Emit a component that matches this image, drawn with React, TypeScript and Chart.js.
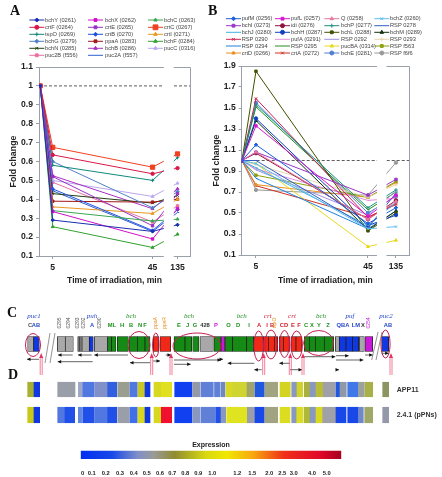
import React, { useEffect, useRef } from "react";
import { Chart, registerables } from "chart.js";
import { drawPoint } from "chart.js/helpers";

Chart.register(...registerables);

const FONT = "'Liberation Sans', Arial, sans-serif";
const SERIF = "'Liberation Serif', serif";

// irradiation times, placed on a broken axis: 135 min is drawn just after the break
const timePositions = [0, 5, 45, 55];
const timeTickLabels: Record<number, string> = { 5: "5", 45: "45", 55: "135" };

const namesA = [
  "bchY (0261)", "bchX (0262)", "bchC (0263)", "crtF (0264)", "crtE (0265)", "crtC (0267)",
  "tspO (0269)", "crtB (0270)", "crtI (0271)", "bchG (0279)", "ppaA (0283)", "bchF (0284)",
  "bchN (0285)", "bchB (0286)", "pucC (0316)", "puc2B (f556)", "puc2A (f557)",
];
const valuesA = [
  [1, 0.29, 0.23, 0.265], [1, 0.335, 0.19, 0.35], [1, 0.34, 0.285, 0.295], [1, 0.635, 0.535, 0.565],
  [1, 0.52, 0.26, 0.43], [1, 0.675, 0.57, 0.64], [1, 0.58, 0.5, 0.62], [1, 0.455, 0.235, 0.345],
  [1, 0.36, 0.325, 0.4], [1, 0.6, 0.355, 0.44], [1, 0.39, 0.385, 0.4], [1, 0.255, 0.145, 0.215],
  [1, 0.43, 0.38, 0.42], [1, 0.525, 0.35, 0.455], [1, 0.5, 0.415, 0.485], [1, 0.49, 0.28, 0.365],
  [1, 0.445, 0.23, 0.33],
];
const colorsA = [
  "#1a2fb0", "#d010c8", "#38a850", "#d81848", "#9a30c8", "#f04020", "#108878", "#2050e0", "#e89820",
  "#5080c8", "#a01818", "#30a030", "#204010", "#a830c0", "#b8a8f0", "#e870a0", "#3060d0",
];
const stylesA = [
  "rectRot", "rect", "triangle", "circle", "rect", "rect", "cross", "rectRot", "triangle",
  "rectRot", "rect", "triangle", "crossRot", "triangle", "triangle", "rect", "dash",
];

const namesB = [
  "pufM (0256)", "pufL (0257)", "Q (0258)", "bchZ (0260)", "bchI (0273)", "idi (0276)", "bchP (0277)", "RSP 0278",
  "bchJ (0280)", "bchH (0287)", "bchL (0288)", "bchM (0289)", "RSP 0290", "pufA (0291)", "RSP 0292", "RSP 0293",
  "RSP 0294", "RSP 0295", "pucBA (0314)", "RSP f563", "crtD (0266)", "crtA (0272)", "bchE (0281)", "RSP f6f6",
];
const valuesB = [
  [1, 1.15, 0.4, 0.55], [1, 1.33, 0.47, 0.67], [1, 1.08, 0.44, 0.61], [1, 0.97, 0.35, 0.37],
  [1, 1.08, 0.67, 0.82], [1, 1.07, 0.44, 0.62], [1, 1.53, 0.55, 0.72], [1, 1.0, 0.36, 0.69],
  [1, 0.93, 0.38, 0.6], [1, 1.4, 0.38, 0.48], [1, 1.85, 0.33, 0.5], [1, 1.38, 0.34, 0.52],
  [1, 1.59, 0.46, 0.58], [1, 0.92, 0.62, 0.64], [1, 0.91, 0.48, 0.71], [1, 0.96, 0.65, 0.77],
  [1, 0.83, 0.35, 0.52], [1, 1.51, 0.53, 0.7], [1, 0.97, 0.18, 0.24], [1, 0.86, 0.65, 0.8],
  [1, 0.77, 0.65, 0.79], [1, 0.76, 0.46, 0.59], [1, 1.55, 0.5, 0.66], [1, 0.72, 0.67, 0.98],
];
const colorsB = [
  "#2060d8", "#d818d0", "#e878a0", "#60c0f0", "#9a38c8", "#901040", "#209080", "#3060c0",
  "#40b0e0", "#1040c0", "#405000", "#103010", "#d02050", "#e090e0", "#a090e0", "#e8d8b0",
  "#2080e0", "#209020", "#e8d820", "#90a010", "#e89020", "#d03020", "#5080d0", "#999999",
];
const stylesB = [
  "rectRot", "rect", "triangle", "crossRot", "rect", "circle", "cross", "dash",
  "dash", "circle", "rect", "triangle", "crossRot", "dash", "dash", "cross",
  "dash", "dash", "triangle", "rect", "triangle", "crossRot", "circle", "circle",
];

// gene map: start / end along the map
const geneStart = [27.7, 33.5, 57.3, 65.3, 77.7, 80, 82, 89.3, 94.3, 107.7, 111.7, 117.3, 129, 137.3, 145, 153.3, 160, 174, 185, 192.7, 200, 214, 221, 225, 232.7, 246.7, 253.7, 263.3, 268.3, 274.3, 279.3, 283.3, 291, 296, 304.3, 309.3, 315.3, 324.3, 335.3, 339.3, 346, 352.7, 359.3, 365, 381.7];
const geneEnd = [33.5, 39.3, 65.3, 73.3, 80, 82, 89.3, 93.3, 107.7, 111.7, 116, 128.3, 137.3, 145, 150, 158.7, 170.7, 185, 191.7, 199, 213.3, 221, 225, 232.7, 246.7, 253.7, 263.3, 268.3, 274.3, 277.7, 283.3, 290, 296, 302, 309.3, 315.3, 324.3, 333.7, 339.3, 346, 352.7, 358.7, 364.3, 372.7, 388.7];
const geneColor = ["g", "b", "g", "g", "d", "g", "g", "b", "g", "n", "n", "n", "n", "n", "n", "r", "r", "n", "n", "n", "g", "n", "m", "n", "n", "n", "r", "r", "r", "r", "r", "r", "r", "r", "n", "n", "n", "n", "g", "b", "b", "b", "g", "m", "b"];
const genePalette: Record<string, string> = { g: "#a8a8a8", d: "#707070", b: "#1038e0", n: "#158a15", r: "#f02818", m: "#c818d8" };

// expression rows: start / end and level colour
const app11Start = [27.7, 34, 57.7, 78.3, 82.7, 95, 107.7, 117.7, 130, 138, 145, 154, 161.3, 174.7, 192.7, 201, 214.5, 221, 226, 232.7, 247, 255, 265, 280, 291.7, 297, 304.3, 310, 316, 323.3, 336, 340, 347.7, 358.3, 365, 382.7];
const app11End = [34, 39.7, 75, 82.3, 94.3, 107.7, 116.7, 129.3, 137.3, 145, 150, 160.7, 171.7, 192, 200, 213.3, 220, 225, 232.7, 247, 254.3, 264.3, 277.7, 290.3, 297, 302.7, 310, 316, 323.3, 335.3, 340, 346.3, 358.3, 364.3, 372.7, 388.7];
const app11Color = ["#a8b030", "#1038e0", "#9a9ea8", "#a0a8c8", "#5078e0", "#8090c8", "#3060e0", "#9a9e90", "#5078e0", "#c8c828", "#1038e0", "#d8d820", "#e0e020", "#1040f0", "#9498a8", "#6080d8", "#6080d8", "#7088c0", "#d8d828", "#d0d430", "#a0a468", "#2058e0", "#a0a480", "#d4d420", "#8898c0", "#d0d428", "#aab040", "#8898c0", "#b8bc38", "#a0a0a8", "#2058e0", "#9098a8", "#4078e8", "#9ca0a0", "#a8b048", "#8c9460"];
const pPNsStart = [27.7, 34, 57.7, 65, 78.3, 82.7, 95, 107.7, 117.7, 130, 138, 145, 154, 161.3, 174.7, 192.7, 201, 215.7, 221, 226.7, 247.3, 255, 265, 280, 291.7, 296.7, 304, 310, 316, 322.7, 336, 347.7, 358.3, 364.7, 382.7];
const pPNsEnd = [34, 39.7, 65, 74.7, 81.7, 94.3, 107.7, 116.7, 129.3, 137.3, 145, 150, 160.7, 171.7, 192, 200, 215, 221, 225.7, 246.7, 255, 264.3, 277.7, 290, 296.7, 302.7, 310, 316, 322.7, 335.7, 346, 358.3, 363.3, 372.7, 388.7];
const pPNsColor = ["#c8c818", "#1038e0", "#5078e0", "#2050e8", "#6088e0", "#2050e8", "#5078e0", "#2050e8", "#9a9ea8", "#4070e8", "#d8d820", "#1038e0", "#d8d820", "#f01030", "#1040f0", "#8898c0", "#6080d8", "#2050e8", "#8898c0", "#e0e420", "#9a9ea8", "#1848e8", "#a0a480", "#dcdc20", "#8898c0", "#dcdc20", "#b0b838", "#8898c0", "#d8d820", "#a0a0a8", "#1848e8", "#1848e8", "#7088c8", "#a0a868", "#9498a8"];

const rowCentres = { map: 44, app11: 89.5, pPNs: 115 };

// ellipses [cx, cy, rx, ry] round gene clusters; cy in the same depth units as the rows
const clusterEllipses = [
  [33, 45, 7.5, 11.5], [139, 45, 11, 13.5], [155.8, 45, 3.2, 12], [197, 46, 24, 13],
  [258.7, 46, 4.8, 15], [271, 44.5, 6, 14.5], [284.5, 44, 4.8, 13.5], [296.7, 45, 5.7, 14],
  [318.7, 43, 15, 12.5], [385.5, 44, 4.6, 14],
];
// transcripts [from, to, depth]; the head sits at "to"
const transcripts = [
  [39, 27, 59.3], [72.7, 58, 55], [91.7, 78, 55], [128, 94.3, 55], [92.7, 57.7, 61.7],
  [150, 130, 62.7], [153, 160, 61], [165.7, 171, 55], [174, 221, 60], [174, 190.7, 64.3],
  [221, 223, 59.3], [254.3, 227.7, 63.3], [261.7, 254.3, 69.7], [290, 279.3, 63.3], [290, 302, 69.7],
  [304.3, 335.3, 56.7], [336, 363.3, 60], [336, 348.7, 55.7], [336, 339, 69.7], [365, 372.7, 55], [381.7, 388.7, 53.3],
];
const promoterMarks = [41.2, 151.7, 171, 263.7, 290.3, 303, 391];
const mapBreaks = [[45, 63, 50, 33], [50, 63, 55, 33], [371.7, 60, 378, 32], [376, 60, 382, 32]];

// [text, x, colour]
const clusterLabels: [string, number, string][] = [
  ["puc1", 34, "#2848c8"], ["puh", 92, "#2848c8"], ["bch", 131, "#209020"], ["bch", 189, "#209020"], ["bch", 241.7, "#209020"],
  ["crt", 267.7, "#d02030"], ["crt", 292, "#d02030"], ["bch", 321, "#209020"], ["puf", 350, "#2848c8"], ["puc2", 386, "#2848c8"],
];
const geneLabels: [string, number, string][] = [
  ["C", 30, "#555555"], ["AB", 36, "#2848c8"], ["A", 92, "#2848c8"], ["ML", 112, "#209020"], ["H", 122, "#209020"], ["B", 131, "#209020"],
  ["N", 140, "#209020"], ["F", 145, "#209020"], ["E", 179, "#209020"], ["J", 187.5, "#209020"], ["G", 195, "#209020"], ["428", 205, "#333333"],
  ["P", 216, "#c818d8"], ["O", 228.5, "#209020"], ["D", 238, "#209020"], ["I", 249, "#209020"], ["A", 259, "#d02030"], ["I", 267, "#d02030"],
  ["B", 272, "#d02030"], ["CD", 284, "#d02030"], ["E", 293, "#d02030"], ["F", 299, "#d02030"], ["C", 306, "#209020"], ["X", 312, "#209020"],
  ["Y", 319, "#209020"], ["Z", 328, "#209020"], ["QBA", 343, "#2848c8"], ["LM", 356, "#2848c8"], ["X", 363, "#333333"], ["AB", 388, "#2848c8"],
];
const sideLabels: [string, number, string][] = [
  ["0295", 59.5, "#555555"], ["0294", 69, "#555555"], ["0293", 78, "#555555"], ["0292", 84, "#555555"], ["0290", 100, "#555555"],
  ["ppaA", 155.5, "#e89020"], ["ppsR", 165, "#e89020"], ["tspO", 275, "#e89020"], ["0254", 369, "#c818d8"],
];
const rowLabels: [string, number, number][] = [["APP11", 407.7, 90], ["2.4.1 (pPNs)", 416.7, 115]];

const expressionTicks = ["0", "0.1", "0.2", "0.3", "0.4", "0.5", "0.6", "0.7", "0.8", "0.9", "1.0", "1.2", "1.5", "2.0", "2.5", "3.0", "4.0", "5.0"];
const expressionPlaces = [2, 11, 25, 39.3, 53, 66, 79.3, 91.6, 104.6, 117.6, 131.6, 156.6, 171.6, 188.6, 201.6, 213, 231.3, 246];
const expressionSpan = [0, 260.6];
const expressionStops: [number, string][] = [
  [0, "#0030f0"], [0.12, "#1848e8"], [0.22, "#8090c8"], [0.28, "#9a9a98"], [0.36, "#908c30"], [0.48, "#d8d810"],
  [0.56, "#f0e800"], [0.66, "#f8a810"], [0.78, "#f03018"], [0.92, "#e00828"], [1, "#a80020"],
];

type PanelCfg = {
  names: string[]; values: number[][]; colors: string[]; styles: string[];
  yMin: number; yMax: number; step: number;
  xMin: number; xMax: number; breakFrom: number; breakTo: number;
  plot: { left: number; right: number; top: number; bottom: number };
  canvas: { w: number; h: number };
  legend: { cols: number; lineX: number[]; textX: number[]; rows: number[] };
  bigIndex: number; titlePad: number;
};

const panelA: PanelCfg = {
  names: namesA, values: valuesA, colors: colorsA, styles: stylesA,
  yMin: 0.1, yMax: 1.1, step: 0.1, xMin: -0.5, xMax: 60, breakFrom: 49.5, breakTo: 53.5,
  plot: { left: 39, right: 190, top: 67, bottom: 256 },
  canvas: { w: 205, h: 288 },
  legend: { cols: 3, lineX: [29.3, 88, 148], textX: [45, 105, 164], rows: [20, 27.3, 34.3, 41.3, 48.3, 55.3] },
  bigIndex: 5, titlePad: 8,
};
const panelB: PanelCfg = {
  names: namesB, values: valuesB, colors: colorsB, styles: stylesB,
  yMin: 0.1, yMax: 1.9, step: 0.2, xMin: -0.1, xMax: 59.65, breakFrom: 48.2, breakTo: 51.6,
  plot: { left: 36.7, right: 204, top: 66, bottom: 255 },
  canvas: { w: 237, h: 288 },
  legend: { cols: 4, lineX: [21, 70, 119.3, 169.3], textX: [36.7, 86, 136, 185], rows: [18.7, 25.7, 32.3, 39.3, 46, 53] },
  bigIndex: -1, titlePad: 6,
};

function makeLinePanel(canvas: HTMLCanvasElement, p: PanelCfg) {
  const axisColor = "#9aa0aa";
  const frameAndBreak = {
    id: "frameAndBreak",
    beforeDatasetsDraw(chart: any) {
      const { ctx, chartArea: a } = chart;
      ctx.save();
      ctx.strokeStyle = axisColor;
      ctx.lineWidth = 1;
      ctx.beginPath();
      ctx.moveTo(a.left, a.top + 0.5);
      ctx.lineTo(a.right + 0.5, a.top + 0.5);
      ctx.lineTo(a.right + 0.5, a.bottom);
      ctx.stroke();
      ctx.restore();
    },
    afterDatasetsDraw(chart: any) {
      const { ctx, chartArea: a, scales } = chart;
      const x1 = scales.x.getPixelForValue(p.breakFrom);
      const x2 = scales.x.getPixelForValue(p.breakTo);
      ctx.save();
      ctx.fillStyle = "#fff";
      ctx.fillRect(x1, a.top - 3, x2 - x1, a.bottom - a.top + 6);
      ctx.restore();
    },
  };
  const columnLegend = {
    id: "columnLegend",
    afterDraw(chart: any) {
      const { ctx } = chart;
      ctx.save();
      ctx.font = `5.7px ${FONT}`;
      ctx.textBaseline = "middle";
      p.names.forEach((name, i) => {
        const col = i % p.legend.cols;
        const row = Math.floor(i / p.legend.cols);
        const y = p.legend.rows[row];
        const x0 = p.legend.lineX[col];
        const x1 = x0 + 15;
        ctx.strokeStyle = p.colors[i];
        ctx.fillStyle = p.colors[i];
        ctx.lineWidth = 1;
        ctx.beginPath();
        ctx.moveTo(x0, y);
        ctx.lineTo(x1, y);
        ctx.stroke();
        if (p.styles[i] !== "dash") {
          drawPoint(ctx, { pointStyle: p.styles[i] as any, radius: i === p.bigIndex ? 3.4 : 2, rotation: 0, borderWidth: 1 } as any, (x0 + x1) / 2, y);
        }
        ctx.fillStyle = "#444";
        ctx.fillText(name, p.legend.textX[col], y);
      });
      ctx.restore();
    },
  };
  return new Chart(canvas, {
    type: "line",
    data: {
      datasets: [
        ...p.names.map((name, i) => ({
          label: name,
          data: p.values[i].map((v, k) => ({ x: timePositions[k], y: v })),
          borderColor: p.colors[i],
          backgroundColor: p.colors[i],
          borderWidth: 1,
          pointStyle: p.styles[i] as any,
          pointRadius: i === p.bigIndex ? 3 : 1.7,
          pointBorderWidth: 1,
        })),
        {
          label: "reference",
          data: [{ x: p.xMin, y: 1 }, { x: p.xMax, y: 1 }],
          borderColor: "#333",
          borderWidth: 0.8,
          borderDash: [3, 2],
          pointRadius: 0,
        },
      ],
    },
    options: {
      animation: false,
      responsive: false,
      devicePixelRatio: 1,
      events: [],
      layout: { padding: { left: 0, top: p.plot.top, right: p.canvas.w - p.plot.right, bottom: 0 } },
      plugins: { legend: { display: false }, tooltip: { enabled: false } },
      scales: {
        x: {
          type: "linear",
          min: p.xMin,
          max: p.xMax,
          afterBuildTicks(s: any) { s.ticks = [{ value: 5 }, { value: 45 }, { value: 55 }]; },
          afterFit(s: any) { s.height = p.canvas.h - p.plot.bottom; },
          border: { color: axisColor },
          grid: { drawOnChartArea: false, tickLength: 3, color: axisColor },
          ticks: {
            autoSkip: false, maxRotation: 0, padding: 3, color: "#222",
            font: { family: FONT, size: 8.6, weight: "bold" },
            callback: (v: any) => timeTickLabels[v as number] ?? "",
          },
          title: {
            display: true, text: "Time of irradiation, min", color: "#222",
            font: { family: FONT, size: 8.6, weight: "bold" }, padding: { top: 2, bottom: 2 },
          },
        },
        y: {
          min: p.yMin,
          max: p.yMax,
          afterFit(s: any) { s.width = p.plot.left; },
          border: { color: axisColor },
          grid: { drawOnChartArea: false, tickLength: 3, color: axisColor },
          ticks: {
            stepSize: p.step, padding: 3, color: "#222",
            font: { family: FONT, size: 8.6, weight: "bold" },
            callback: (v: any) => (Math.abs(v - 1) < 1e-6 ? "1" : Number(v).toFixed(1)),
          },
          title: {
            display: true, text: "Fold change", color: "#222",
            font: { family: FONT, size: 8.8, weight: "bold" }, padding: { top: p.titlePad, bottom: 0 },
          },
        },
      },
    } as any,
    plugins: [frameAndBreak, columnLegend] as any,
  });
}

function barRow(starts: number[], ends: number[], colors: string[], centre: number, thickness: number, edge: number) {
  return {
    data: starts.map((s, i) => ({ x: [s, ends[i]], y: centre })),
    backgroundColor: colors,
    borderColor: "#1a1a1a",
    borderWidth: edge,
    borderSkipped: false,
    barThickness: thickness,
    grouped: false,
  };
}

function makeMap(canvas: HTMLCanvasElement) {
  const annotations = {
    id: "annotations",
    afterDatasetsDraw(chart: any) {
      const { ctx, scales } = chart;
      const X = (v: number) => scales.x.getPixelForValue(v);
      const Y = (v: number) => scales.y.getPixelForValue(v);
      ctx.save();
      ctx.strokeStyle = "#c41e50";
      ctx.lineWidth = 1;
      clusterEllipses.forEach(([cx, cy, rx, ry]) => {
        ctx.beginPath();
        ctx.ellipse(X(cx), Y(cy), rx, ry, 0, 0, Math.PI * 2);
        ctx.stroke();
      });
      ctx.strokeStyle = "#222";
      ctx.fillStyle = "#111";
      ctx.lineWidth = 0.7;
      transcripts.forEach(([a, b, d]) => {
        const x1 = X(a), x2 = X(b), y = Y(d);
        const dir = b > a ? 1 : -1;
        ctx.beginPath();
        ctx.moveTo(x1, y);
        ctx.lineTo(x2, y);
        ctx.stroke();
        ctx.beginPath();
        ctx.moveTo(x2, y);
        ctx.lineTo(x2 - dir * 3.5, y - 1.7);
        ctx.lineTo(x2 - dir * 3.5, y + 1.7);
        ctx.closePath();
        ctx.fill();
      });
      ctx.strokeStyle = "#ee6080";
      ctx.fillStyle = "#e83060";
      ctx.lineWidth = 0.8;
      promoterMarks.forEach((m) => {
        const x = X(m);
        [-1, 1].forEach((o) => {
          ctx.beginPath();
          ctx.moveTo(x + o, Y(57));
          ctx.lineTo(x + o, Y(75));
          ctx.stroke();
        });
        ctx.beginPath();
        ctx.moveTo(x, Y(53));
        ctx.lineTo(x - 2, Y(58));
        ctx.lineTo(x + 2, Y(58));
        ctx.closePath();
        ctx.fill();
      });
      ctx.strokeStyle = "#666";
      ctx.lineWidth = 0.7;
      mapBreaks.forEach(([a, b, c, d]) => {
        ctx.beginPath();
        ctx.moveTo(X(a), Y(b));
        ctx.lineTo(X(c), Y(d));
        ctx.stroke();
      });
      ctx.textAlign = "center";
      ctx.textBaseline = "middle";
      ctx.font = `italic 7px ${SERIF}`;
      clusterLabels.forEach(([t, x, c]) => { ctx.fillStyle = c; ctx.fillText(t, X(x), Y(16)); });
      ctx.font = `bold 5.8px ${FONT}`;
      geneLabels.forEach(([t, x, c]) => { ctx.fillStyle = c; ctx.fillText(t, X(x), Y(25)); });
      ctx.font = `5px ${FONT}`;
      sideLabels.forEach(([t, x, c]) => {
        ctx.save();
        ctx.translate(X(x), Y(23));
        ctx.rotate(-Math.PI / 2);
        ctx.fillStyle = c;
        ctx.fillText(t, 0, 0);
        ctx.restore();
      });
      ctx.font = `bold 7px ${FONT}`;
      ctx.fillStyle = "#333";
      rowLabels.forEach(([t, x, d]) => ctx.fillText(t, X(x), Y(d)));
      ctx.restore();
    },
  };
  return new Chart(canvas, {
    type: "bar",
    data: {
      datasets: [
        { label: "gene map", ...barRow(geneStart, geneEnd, geneColor.map((k) => genePalette[k]), rowCentres.map, 15, 0.7) },
        { label: "APP11", ...barRow(app11Start, app11End, app11Color, rowCentres.app11, 14.5, 0) },
        { label: "2.4.1 (pPNs)", ...barRow(pPNsStart, pPNsEnd, pPNsColor, rowCentres.pPNs, 15.5, 0) },
      ],
    } as any,
    options: {
      indexAxis: "y",
      animation: false,
      responsive: false,
      devicePixelRatio: 1,
      events: [],
      plugins: { legend: { display: false }, tooltip: { enabled: false } },
      scales: {
        x: { type: "linear", min: 0, max: 442, display: false },
        y: { type: "linear", min: 0, max: 140, reverse: true, display: false, offset: false },
      },
    } as any,
    plugins: [annotations] as any,
  });
}

function makeColourBar(canvas: HTMLCanvasElement) {
  const ctx = canvas.getContext("2d")!;
  const grad = ctx.createLinearGradient(80.7, 0, 341.3, 0);
  expressionStops.forEach(([o, c]) => grad.addColorStop(o, c));
  return new Chart(canvas, {
    type: "bar",
    data: {
      labels: ["Expression"],
      datasets: [{ label: "Expression", data: [expressionSpan as any], backgroundColor: grad, barThickness: 8, borderWidth: 0 }],
    },
    options: {
      indexAxis: "y",
      animation: false,
      responsive: false,
      devicePixelRatio: 1,
      events: [],
      layout: { padding: { left: 80.7, right: 100.7 } },
      plugins: {
        legend: { display: false },
        tooltip: { enabled: false },
        title: {
          display: true, text: "Expression", color: "#222",
          font: { family: FONT, size: 7, weight: "bold", lineHeight: 1 }, padding: { top: 2, bottom: 1.5 },
        },
      },
      scales: {
        x: {
          type: "linear",
          min: expressionSpan[0],
          max: expressionSpan[1],
          afterBuildTicks(s: any) { s.ticks = expressionPlaces.map((value) => ({ value })); },
          afterFit(s: any) { s.height = 18; },
          border: { display: false },
          grid: { display: false },
          ticks: {
            autoSkip: false, maxRotation: 0, padding: 3, color: "#222",
            font: { family: FONT, size: 5.8, weight: "bold" },
            callback: (v: any) => expressionTicks[expressionPlaces.indexOf(v)] ?? "",
          },
        },
        y: { display: false },
      },
    } as any,
  });
}

const letterStyle = (left: number, top: number): React.CSSProperties => ({
  position: "absolute", left, top, font: `bold 14px ${SERIF}`, lineHeight: "14px", color: "#111",
});
const abs = (left: number, top: number): React.CSSProperties => ({ position: "absolute", left, top, display: "block" });

export default function App() {
  const aRef = useRef<HTMLCanvasElement>(null);
  const bRef = useRef<HTMLCanvasElement>(null);
  const mRef = useRef<HTMLCanvasElement>(null);
  const eRef = useRef<HTMLCanvasElement>(null);

  useEffect(() => {
    const charts = [
      makeLinePanel(aRef.current!, panelA),
      makeLinePanel(bRef.current!, panelB),
      makeMap(mRef.current!),
      makeColourBar(eRef.current!),
    ];
    return () => charts.forEach((c) => c.destroy());
  }, []);

  return (
    <div style={{ position: "absolute", left: 0, top: 0, width: 442, height: 477, background: "#fff", overflow: "hidden", filter: "blur(0.35px)" }}>
      <canvas ref={aRef} width={205} height={288} style={abs(0, 0)} />
      <canvas ref={bRef} width={237} height={288} style={abs(205, 0)} />
      <canvas ref={mRef} width={442} height={140} style={abs(0, 300)} />
      <canvas ref={eRef} width={442} height={37} style={abs(0, 440)} />
      <span style={letterStyle(10, 4)}>A</span>
      <span style={letterStyle(208, 4)}>B</span>
      <span style={letterStyle(7, 306)}>C</span>
      <span style={letterStyle(8, 368)}>D</span>
    </div>
  );
}
